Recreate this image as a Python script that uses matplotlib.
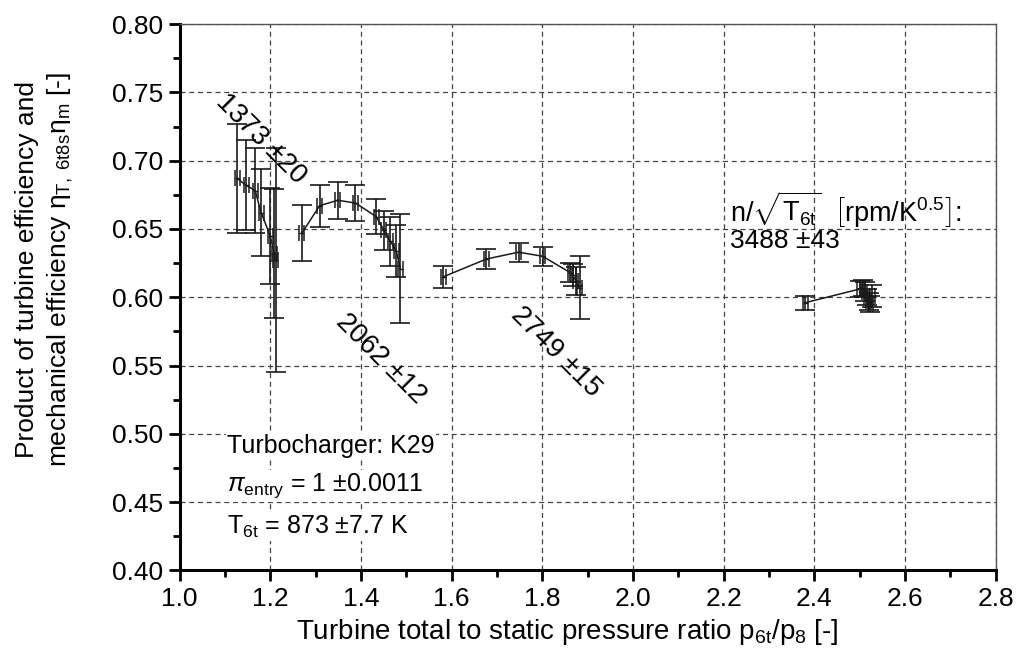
import matplotlib
matplotlib.use("Agg")
import matplotlib.pyplot as plt
from matplotlib.ticker import MultipleLocator, FormatStrFormatter

plt.rcParams['font.family'] = ['Liberation Sans', 'DejaVu Sans']
plt.rcParams['mathtext.fontset'] = 'custom'
plt.rcParams['mathtext.rm'] = 'Liberation Sans'
plt.rcParams['mathtext.it'] = 'Liberation Sans:italic'
plt.rcParams['mathtext.bf'] = 'Liberation Sans:bold'

# ---- data ----
# speed line 1373 rpm/K^0.5
x_1373 = [1.127, 1.147, 1.167, 1.180, 1.200, 1.209, 1.212]
y_1373 = [0.687, 0.682, 0.678, 0.662, 0.645, 0.632, 0.627]
e_1373 = [0.040, 0.033, 0.031, 0.032, 0.035, 0.047, 0.082]

# speed line 2062
x_2062 = [1.270, 1.309, 1.349, 1.388, 1.434, 1.451, 1.465, 1.478, 1.487]
y_2062 = [0.647, 0.667, 0.671, 0.669, 0.659, 0.649, 0.641, 0.634, 0.621]
e_2062 = [0.0205, 0.0155, 0.0137, 0.013, 0.013, 0.0144, 0.018, 0.019, 0.040]

# speed line 2749
x_2749 = [1.582, 1.677, 1.748, 1.801, 1.862, 1.868, 1.874, 1.883]
y_2749 = [0.615, 0.628, 0.633, 0.630, 0.618, 0.616, 0.612, 0.607]
e_2749 = [0.008, 0.007, 0.007, 0.007, 0.007, 0.008, 0.010, 0.023]

# speed line 3488
x_3488 = [2.380, 2.500, 2.507, 2.512, 2.516, 2.520, 2.524, 2.528]
y_3488 = [0.596, 0.606, 0.607, 0.604, 0.600, 0.597, 0.595, 0.601]
e_3488 = [0.005, 0.006, 0.006, 0.007, 0.006, 0.006, 0.006, 0.008]

x_err = 0.0055

speed_labels = ['1373 \u00b120', '2062 \u00b112', '2749 \u00b115']

fig = plt.figure(figsize=(10.2, 6.68), dpi=100)
ax = fig.add_axes([0.176, 0.146, 0.800, 0.818])

col = '#1a1a1a'
for xs, ys, es in [(x_1373, y_1373, e_1373), (x_2062, y_2062, e_2062),
                   (x_2749, y_2749, e_2749), (x_3488, y_3488, e_3488)]:
    ax.plot(xs, ys, color=col, lw=1.1, zorder=3)
    ax.errorbar(xs, ys, yerr=es, fmt='none', ecolor=col, elinewidth=1.2,
                capsize=7, capthick=1.2, zorder=3)
    ax.errorbar(xs, ys, xerr=x_err, fmt='none', ecolor=col, elinewidth=1.0,
                capsize=5.5, capthick=1.1, zorder=3)

ax.set_xlim(1.0, 2.8)
ax.set_ylim(0.40, 0.80)
ax.xaxis.set_major_locator(MultipleLocator(0.2))
ax.xaxis.set_minor_locator(MultipleLocator(0.1))
ax.yaxis.set_major_locator(MultipleLocator(0.05))
ax.yaxis.set_minor_locator(MultipleLocator(0.025))
ax.xaxis.set_major_formatter(FormatStrFormatter('%.1f'))
ax.yaxis.set_major_formatter(FormatStrFormatter('%.2f'))

ax.grid(True, which='major', color='#444444', linestyle=(0, (4, 3)), lw=0.9)
ax.tick_params(which='major', direction='out', length=8, width=2,
               labelsize=19, top=False, right=False, pad=4)
ax.tick_params(which='minor', direction='out', length=5, width=2,
               top=False, right=False)
for s in ['left', 'bottom']:
    ax.spines[s].set_linewidth(2.2)
for s in ['top', 'right']:
    ax.spines[s].set_linewidth(1.0)
    ax.spines[s].set_color('#555555')

ax.set_xlabel('Turbine total to static pressure ratio p$_{\\rm 6t}$/p$_{\\rm 8}$ [-]',
              fontsize=20)
ax.xaxis.set_label_coords(0.475, -0.085)
ax.set_ylabel('Product of turbine efficiency and\n'
              'mechanical efficiency \u03b7$_{\\rm T,\\ 6t8s}$\u03b7$_{\\rm m}$ [-]',
              fontsize=19, linespacing=1.3)
ax.yaxis.set_label_coords(-0.128, 0.55)

# rotated speed labels
ax.text(1.180, 0.716, speed_labels[0], rotation=-45, fontsize=20,
        ha='center', va='center', rotation_mode='anchor')
ax.text(1.445, 0.555, speed_labels[1], rotation=-45, fontsize=20,
        ha='center', va='center', rotation_mode='anchor')
ax.text(1.830, 0.560, speed_labels[2], rotation=-45, fontsize=20,
        ha='center', va='center', rotation_mode='anchor')

ax.text(2.214, 0.664, r'n/$\sqrt{\mathrm{T_{6t}}}$  $\left[\mathrm{rpm/K^{0.5}}\right]$:',
        fontsize=19.5, ha='left', va='center')
ax.text(2.214, 0.641, '3488 \u00b143', fontsize=19, ha='left', va='center')

bb = dict(facecolor='white', edgecolor='none', pad=1)
ax.text(1.105, 0.491, 'Turbocharger: K29', fontsize=18, ha='left', va='center', bbox=bb)
ax.text(1.105, 0.462, r'$\pi_{\rm entry}$ = 1 $\pm$0.0011', fontsize=18,
        ha='left', va='center', bbox=bb)
ax.text(1.105, 0.432, r'T$_{\rm 6t}$ = 873 $\pm$7.7 K', fontsize=18,
        ha='left', va='center', bbox=bb)

fig.savefig('out.png', dpi=100)
